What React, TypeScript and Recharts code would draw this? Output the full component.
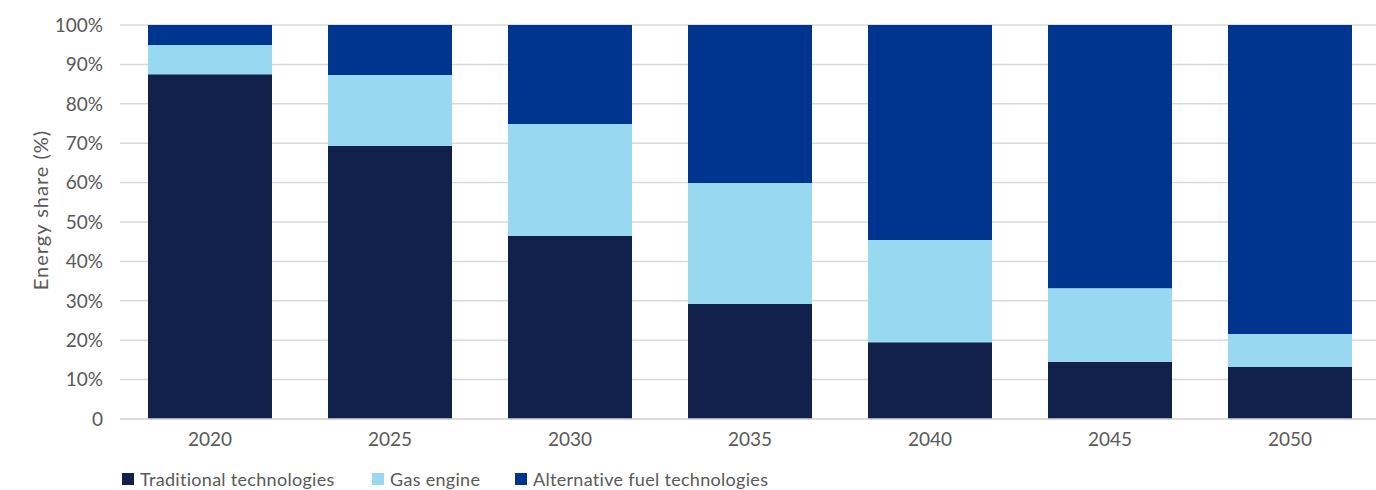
import React from 'react';
import { BarChart, Bar, XAxis, YAxis, CartesianGrid, Legend } from 'recharts';

const years = ['2020', '2025', '2030', '2035', '2040', '2045', '2050'];
const traditional = [87.5, 69.3, 46.5, 29.2, 19.5, 14.5, 13.2];
const gasEngine = [7.4, 18.0, 28.4, 30.7, 25.9, 18.7, 8.4];
const alternative = [5.1, 12.7, 25.1, 40.1, 54.6, 66.8, 78.4];
const yTicks = [0, 10, 20, 30, 40, 50, 60, 70, 80, 90, 100];
const yTitle = 'Energy share (%)';

const seriesNames = ['Traditional technologies', 'Gas engine', 'Alternative fuel technologies'];
const seriesKeys = ['trad', 'gas', 'alt'];
const seriesColors = ['#12214b', '#98d8f0', '#00358f'];

const data = years.map((y, i) => ({
  year: y,
  trad: traditional[i],
  gas: gasEngine[i],
  alt: alternative[i],
}));

const FONT = 'Lato, "Open Sans", sans-serif';
const legendWidths = [250, 143, 320];

const LegendContent = () => (
  <div style={{ display: 'flex', fontFamily: FONT, fontSize: 18, lineHeight: '20px', color: '#595959', paddingLeft: 122, letterSpacing: 0.3 }}>
    {seriesNames.map((n, i) => (
      <div key={n} style={{ display: 'flex', alignItems: 'center', width: legendWidths[i] }}>
        <span style={{ display: 'inline-block', width: 12, height: 12, background: seriesColors[i], marginRight: 6 }} />
        <span>{n}</span>
      </div>
    ))}
  </div>
);

const YTitle = (props: any) => {
  const vb = props.viewBox || {};
  const cx = 40;
  const cy = (vb.y ?? 25) + (vb.height ?? 394) / 2 - 12;
  return (
    <text
      x={cx}
      y={cy}
      transform={`rotate(-90, ${cx}, ${cy})`}
      textAnchor="middle"
      dominantBaseline="central"
      fill="#595959"
      fontSize={20}
      fontFamily={FONT}
      letterSpacing={1}
    >
      {yTitle}
    </text>
  );
};

export default function App() {
  return (
    <div style={{ position: 'absolute', left: 0, top: 0, width: 1376, height: 490, overflow: 'hidden', background: '#fff' }}>
      <BarChart
        width={1390}
        height={490}
        data={data}
        margin={{ top: 25, right: 10, left: 0, bottom: 0 }}
        barSize={124}
      >
        <CartesianGrid vertical={false} stroke="#d9d9d9" strokeWidth={1.5} />
        <XAxis
          dataKey="year"
          height={71}
          tickLine={false}
          axisLine={{ stroke: '#d9d9d9', strokeWidth: 1.5 }}
          tick={{ fill: '#595959', fontSize: 19, fontFamily: FONT }}
          tickMargin={8}
        />
        <YAxis
          width={120}
          domain={[0, 100]}
          ticks={yTicks}
          tickFormatter={(v: number) => (v === 0 ? '0' : `${v}%`)}
          tickLine={false}
          axisLine={false}
          tick={{ fill: '#595959', fontSize: 19, fontFamily: FONT }}
          tickMargin={11}
          label={<YTitle />}
        />
        <Legend
          verticalAlign="middle"
          align="center"
          layout="horizontal"
          content={<LegendContent />}
          wrapperStyle={{ top: 469, left: 0, width: 1376 }}
        />
        {seriesKeys.map((k, i) => (
          <Bar key={k} dataKey={k} name={seriesNames[i]} stackId="a" fill={seriesColors[i]} isAnimationActive={false} />
        ))}
      </BarChart>
    </div>
  );
}
